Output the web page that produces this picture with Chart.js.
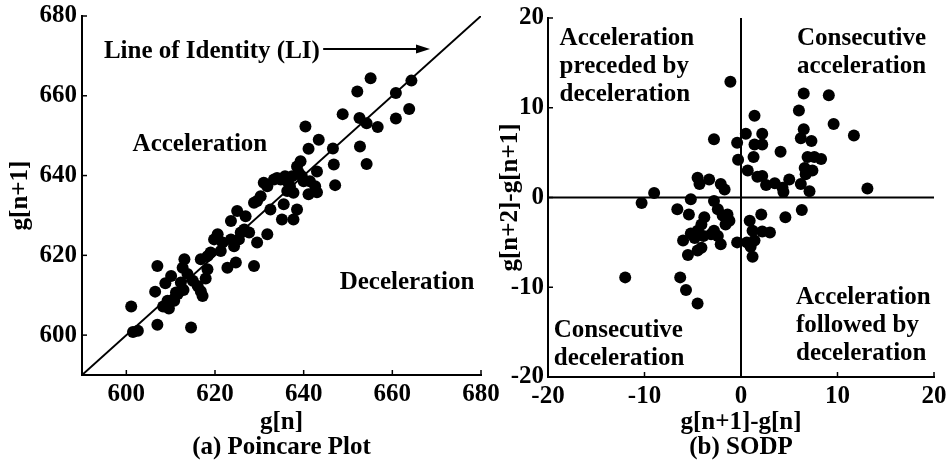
<!DOCTYPE html>
<html>
<head>
<meta charset="utf-8">
<script src="https://cdn.jsdelivr.net/npm/chart.js@4.4.0/dist/chart.umd.min.js"></script>
<style>
  body { margin: 0; background: #fff; }
  #wrap { position: relative; width: 950px; height: 464px; }
  canvas { position: absolute; top: 0; }
</style>
</head>
<body>
<div id="wrap">
  <canvas id="poincare" width="500" height="464" style="left:0"></canvas>
  <canvas id="sodp" width="470" height="464" style="left:480px"></canvas>
</div>
<script>
// Poincare plot: g[n] against g[n+1]
const pcX = [601.1, 601.5, 602.6, 607.0, 607.0, 606.5, 608.8, 610.1, 608.3, 609.6,
             610.8, 611.6, 612.9, 613.1, 612.7, 613.8, 615.0, 614.6, 616.8, 617.2,
             617.9, 616.8, 618.3, 619.0, 620.6, 621.3, 621.7, 622.8, 624.7, 623.6,
             624.3, 625.4, 625.0, 626.9, 626.6, 627.7, 628.8, 629.5, 631.8, 628.8,
             631.0, 630.3, 632.5, 634.0, 635.5, 635.1, 635.8, 636.9, 637.7, 638.5,
             637.7, 639.3, 638.9, 640.0, 640.4, 641.1, 641.1, 642.6, 643.0, 643.0,
             643.4, 646.6, 646.8, 647.1, 648.8, 652.1, 652.6, 652.7, 654.2, 654.2,
             655.1, 656.7, 660.8, 660.8, 663.8, 664.3, 619.8, 623.6, 625.8, 629.5,
             631.8, 633.3, 636.3, 637.4, 638.5, 639.6, 641.4, 636.3, 634.8, 618.3,
             616.1, 612.3, 611.2, 609.3];
const pcY = [607.2, 600.8, 601.1, 602.6, 617.3, 610.9, 613.0, 614.8, 607.2, 606.7,
             608.6, 610.3, 611.3, 619.0, 616.9, 615.3, 613.6, 601.9, 611.0, 609.8,
             614.2, 619.0, 619.8, 620.7, 625.3, 621.1, 623.2, 616.9, 618.2, 628.6,
             622.3, 624.0, 631.1, 629.8, 626.5, 625.7, 617.3, 623.2, 625.3, 633.2,
             638.2, 634.8, 631.5, 639.4, 632.8, 629.0, 639.8, 637.3, 629.0, 631.5,
             635.7, 643.6, 640.7, 638.6, 652.3, 646.7, 635.3, 637.3, 635.8, 641.0,
             649.0, 646.8, 642.8, 637.6, 655.4, 661.1, 654.4, 647.3, 653.1, 642.9,
             664.4, 652.2, 660.7, 654.3, 656.7, 663.8, 624.0, 624.0, 625.7, 633.6,
             637.3, 639.0, 638.6, 639.8, 642.3, 639.8, 638.6, 636.1, 639.0, 616.5,
             612.3, 613.2, 610.7, 608.6];
const pcTicks = [600, 620, 640, 660, 680];

// second order difference plot
const sodpX = [-1.1, 6.5, 9.1, 6.0, 1.4, 9.6, 11.7, 6.5, 6.2, 7.3,
               -2.8, -0.4, 0.5, 1.4, 2.2, 2.2, 4.1, 1.3, -0.3, 0.7,
               1.7, 2.2, 2.6, 3.5, 4.3, 4.4, 5.0, 6.2, 6.6, 6.9,
               7.6, 8.3, 7.4, 6.7, 7.1, 13.1, 6.3, 4.6, 2.1, 0.9,
               1.2, 2.2, 3.0, 1.4, 1.0, 1.2, -0.4, 0.6, -4.5, -4.3,
               -3.3, -2.1, -1.7, -5.2, -6.6, -5.4, -9.0, -10.3, -2.8, -2.4,
               -1.9, -1.4, -1.2, -1.6, -3.8, -4.1, -4.5, -5.2, -6.0, -3.9,
               -3.1, -2.4, -2.1, -4.1, -4.5, -5.5, -12.0, -6.3, -5.7, -4.5,
               -4.8, -2.8];
const sodpY = [12.9, 11.6, 11.4, 9.7, 9.1, 8.2, 6.9, 7.6, 6.6, 6.3,
               6.5, 6.1, 7.1, 5.9, 7.1, 5.9, 5.1, 4.5, 4.2, 3.0,
               2.3, 2.4, 1.4, 1.6, 1.1, 0.6, 2.0, 1.5, 3.3, 4.5,
               4.5, 4.3, 3.0, 2.6, 0.7, 1.0, -1.4, -2.2, -1.9, -2.6,
               -3.7, -3.8, -3.9, -4.8, -5.5, -6.6, -5.0, -5.0, 2.2, 1.5,
               2.0, 1.5, 0.9, -0.2, -1.3, -1.9, 0.5, -0.6, -0.4, -1.3,
               -2.0, -1.9, -2.6, -3.0, -2.2, -3.0, -3.7, -4.0, -4.8, -4.3,
               -4.1, -4.3, -5.2, -5.6, -5.9, -6.4, -8.9, -8.9, -10.3, -11.8,
               -4.5, -3.7];
const sodpTicks = [-20, -10, 0, 10, 20];

const FONT = { family: "'Liberation Serif', 'Times New Roman', serif", size: 25, weight: 'bold' };

// text placed in data coordinates; align 'center' or 'left'
const pcNotes = [
  { x: 619.3, y: 671, align: 'center', lines: ['Line of Identity (LI)'] },
  { x: 616.6, y: 647.7, align: 'center', lines: ['Acceleration'] },
  { x: 663.3, y: 613.1, align: 'center', lines: ['Deceleration'] }
];
const pcArrow = { x1: 644.4, x2: 668.5, y: 671.7 };
const sodpNotes = [
  { x: -18.8, y: 17.7, align: 'left', lines: ['Acceleration', 'preceded by', 'deceleration'] },
  { x: 5.8, y: 17.7, align: 'left', lines: ['Consecutive', 'acceleration'] },
  { x: 5.7, y: -11.2, align: 'left', lines: ['Acceleration', 'followed by', 'deceleration'] },
  { x: -19.4, y: -14.8, align: 'left', lines: ['Consecutive', 'deceleration'] }
];

function toPoints(xs, ys) {
  return xs.map((v, i) => ({ x: v, y: ys[i] }));
}

// MATLAB style short ticks pointing into the plot, plus text notes
function decorations(notes, arrow) {
  return {
    id: 'decorations',
    afterDatasetsDraw(chart) {
      const { ctx, chartArea, scales: { x, y } } = chart;
      ctx.save();
      ctx.strokeStyle = '#000';
      ctx.lineWidth = 1.5;
      x.ticks.forEach(t => {
        const px = x.getPixelForValue(t.value);
        ctx.beginPath();
        ctx.moveTo(px, chartArea.bottom);
        ctx.lineTo(px, chartArea.bottom - 5);
        ctx.stroke();
      });
      y.ticks.forEach(t => {
        const py = y.getPixelForValue(t.value);
        ctx.beginPath();
        ctx.moveTo(chartArea.left, py);
        ctx.lineTo(chartArea.left + 5, py);
        ctx.stroke();
      });

      ctx.fillStyle = '#000';
      ctx.font = `bold ${FONT.size}px ${FONT.family}`;
      ctx.textBaseline = 'middle';
      notes.forEach(n => {
        ctx.textAlign = n.align;
        const px = x.getPixelForValue(n.x);
        const py = y.getPixelForValue(n.y);
        n.lines.forEach((line, i) => ctx.fillText(line, px, py + i * 28));
      });

      if (arrow) {
        const ax1 = x.getPixelForValue(arrow.x1);
        const ax2 = x.getPixelForValue(arrow.x2);
        const ay = y.getPixelForValue(arrow.y);
        ctx.lineWidth = 2;
        ctx.beginPath();
        ctx.moveTo(ax1, ay);
        ctx.lineTo(ax2 - 8, ay);
        ctx.stroke();
        ctx.beginPath();
        ctx.moveTo(ax2, ay);
        ctx.lineTo(ax2 - 14, ay - 4.5);
        ctx.lineTo(ax2 - 14, ay + 4.5);
        ctx.closePath();
        ctx.fill();
      }
      ctx.restore();
    }
  };
}

function axis(min, max, tickList, title, width, height, tickPad, titlePad) {
  return {
    type: 'linear',
    min: min,
    max: max,
    grid: { display: false, drawTicks: false },
    border: { display: true, color: '#000', width: 2 },
    ticks: { color: '#000', font: FONT, padding: tickPad, autoSkip: false, maxRotation: 0 },
    title: { display: true, text: title, color: '#000', font: Object.assign({ lineHeight: 1.0 }, FONT), padding: titlePad },
    afterBuildTicks: s => { s.ticks = tickList.map(v => ({ value: v })); },
    afterFit: s => {
      // end labels may hang over the plot edges, keep the plot area fixed
      s.paddingLeft = s.paddingRight = s.paddingTop = s.paddingBottom = 0;
      if (width) s.width = width;
      if (height) s.height = height;
    }
  };
}

function baseOptions(xScale, yScale, pad) {
  return {
    responsive: false,
    animation: false,
    layout: { padding: pad },
    plugins: { legend: { display: false }, tooltip: { enabled: false } },
    scales: { x: xScale, y: yScale }
  };
}

new Chart(document.getElementById('poincare'), {
  type: 'scatter',
  data: {
    datasets: [{
      data: toPoints(pcX, pcY),
      backgroundColor: '#000',
      borderWidth: 0,
      pointRadius: 6
    }, {
      // line of identity
      data: [{ x: 590, y: 590 }, { x: 680, y: 680 }],
      showLine: true,
      borderColor: '#000',
      borderWidth: 2,
      pointRadius: 0
    }]
  },
  options: baseOptions(
    axis(590, 680, pcTicks, ['g[n]', '(a) Poincare Plot'], null, 89, 5, { top: 0, bottom: 4 }),
    axis(590, 680, pcTicks, 'g[n+1]', 82, null, 5, { top: 8, bottom: 0 }),
    { left: 0, right: 19, top: 16, bottom: 0 }
  ),
  plugins: [decorations(pcNotes, pcArrow)]
});

new Chart(document.getElementById('sodp'), {
  type: 'scatter',
  data: {
    datasets: [{
      data: toPoints(sodpX, sodpY),
      backgroundColor: '#000',
      borderWidth: 0,
      pointRadius: 6
    }, {
      data: [{ x: 0, y: -20 }, { x: 0, y: 20 }],
      showLine: true,
      borderColor: '#000',
      borderWidth: 2,
      pointRadius: 0
    }, {
      data: [{ x: -20, y: 0 }, { x: 20, y: 0 }],
      showLine: true,
      borderColor: '#000',
      borderWidth: 2,
      pointRadius: 0
    }]
  },
  options: baseOptions(
    axis(-20, 20, sodpTicks, ['g[n+1]-g[n]', '(b) SODP'], null, 87, 5, { top: 0, bottom: 4 }),
    axis(-20, 20, sodpTicks, 'g[n+2]-g[n+1]', 68, null, 4, { top: 18, bottom: 0 }),
    { left: 0, right: 16, top: 18, bottom: 0 }
  ),
  plugins: [decorations(sodpNotes, null)]
});
</script>
</body>
</html>
